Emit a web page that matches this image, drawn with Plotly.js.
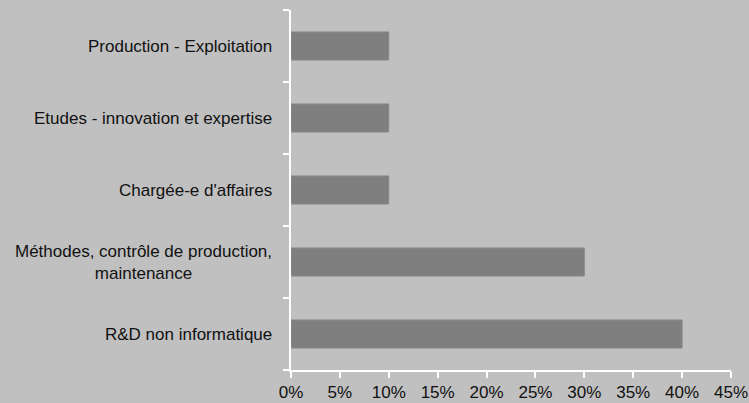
<!DOCTYPE html>
<html>
<head>
<meta charset="utf-8">
<script src="https://cdn.plot.ly/plotly-3.0.1.min.js"></script>
<style>html,body{margin:0;padding:0;background:#c0c0c0;}#chart{width:749px;height:403px;}</style>
</head>
<body>
<div id="chart"></div>
<script>
const categories = [
  "R&D non informatique",
  "Méthodes, contrôle de production,<br>maintenance",
  "Chargée-e d'affaires",
  "Etudes - innovation et expertise",
  "Production - Exploitation"
];
const values = [0.40, 0.30, 0.10, 0.10, 0.10];
const xTickVals = [0, 0.05, 0.10, 0.15, 0.20, 0.25, 0.30, 0.35, 0.40, 0.45];

const FONT = '"Liberation Sans Narrow", "Arial Narrow", "Liberation Sans", Arial, sans-serif';
const FS = 17;

const trace = {
  type: 'bar',
  orientation: 'h',
  x: values,
  y: categories,
  marker: { color: '#7f7f7f', line: { color: '#8a8a8a', width: 1 } },
  hoverinfo: 'none'
};

const annotations = categories.map(c => ({
  text: c,
  xref: 'paper', yref: 'y',
  x: 0, y: c,
  xanchor: 'right', yanchor: 'middle',
  xshift: -17,
  align: 'center',
  showarrow: false,
  font: { family: FONT, size: FS, color: '#111111' }
}));

const layout = {
  width: 749, height: 403,
  paper_bgcolor: '#c0c0c0',
  plot_bgcolor: '#c0c0c0',
  margin: { l: 291, r: 18, t: 10, b: 33 },
  showlegend: false,
  bargap: 0.61,
  font: { family: FONT, size: FS, color: '#111111' },
  xaxis: {
    range: [0, 0.45],
    tickvals: xTickVals,
    tickformat: '.0%',
    showgrid: false,
    zeroline: false,
    showline: true,
    linecolor: '#ffffff',
    linewidth: 2,
    ticks: 'outside',
    ticklen: 6,
    tickwidth: 2,
    tickcolor: '#ffffff',
    ticklabelstandoff: 0,
    tickfont: { family: FONT, size: FS, color: '#111111' },
    fixedrange: true
  },
  yaxis: {
    type: 'category',
    showticklabels: false,
    showgrid: false,
    zeroline: false,
    showline: true,
    linecolor: '#ffffff',
    linewidth: 2,
    ticks: 'outside',
    tickson: 'boundaries',
    ticklen: 6,
    tickwidth: 2,
    tickcolor: '#ffffff',
    fixedrange: true
  },
  annotations: annotations
};

Plotly.newPlot('chart', [trace], layout, { staticPlot: true, displayModeBar: false });
</script>
</body>
</html>
